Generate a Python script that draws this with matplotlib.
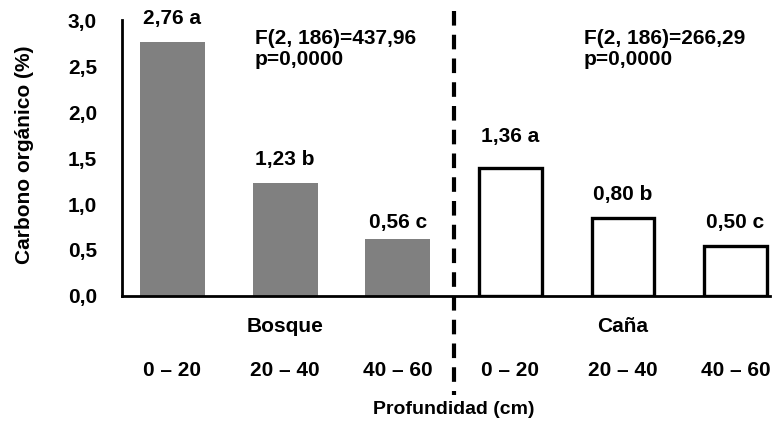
import matplotlib
matplotlib.use("Agg")
import matplotlib.pyplot as plt
import matplotlib.transforms as mtransforms

plt.rcParams['font.family'] = ['Liberation Sans', 'DejaVu Sans']
plt.rcParams['font.weight'] = 'bold'

# Data
groups = ["Bosque", "Caña"]
depths = ["0 – 20", "20 – 40", "40 – 60", "0 – 20", "20 – 40", "40 – 60"]
bosque_vals = [2.76, 1.23, 0.62]
cana_vals = [1.39, 0.85, 0.54]
bosque_labels = ["2,76 a", "1,23 b", "0,56 c"]
cana_labels = ["1,36 a", "0,80 b", "0,50 c"]
stats = ["F(2, 186)=437,96\np=0,0000", "F(2, 186)=266,29\np=0,0000"]
yticks = [0.0, 0.5, 1.0, 1.5, 2.0, 2.5, 3.0]
ytick_labels = ["0,0", "0,5", "1,0", "1,5", "2,0", "2,5", "3,0"]

# layout: gap between bar top and label centre (in axis units)
bosque_gap = [0.26, 0.25, 0.18]
cana_gap = [0.34, 0.25, 0.26]

W, H = 779, 430
fig = plt.figure(figsize=(W / 100, H / 100), dpi=100)
ax = fig.add_axes([122 / W, (H - 296) / H, 648 / W, 276 / H])

xb = [0, 1, 2]
xc = [3, 4, 5]
bw = 0.577
ax.bar(xb, bosque_vals, width=bw, color="#808080", edgecolor="none", zorder=2)
ax.bar(xc, cana_vals, width=bw - 0.02, facecolor="white", edgecolor="black",
       linewidth=2.4, zorder=2)

fs = 15
for x, v, lab, g in zip(xb, bosque_vals, bosque_labels, bosque_gap):
    ax.text(x, v + g, lab, ha="center", va="center", fontsize=fs, fontweight="bold")
for x, v, lab, g in zip(xc, cana_vals, cana_labels, cana_gap):
    ax.text(x, v + g, lab, ha="center", va="center", fontsize=fs, fontweight="bold")

ax.text(0.73, 2.90, stats[0], ha="left", va="top", fontsize=fs, fontweight="bold",
        linespacing=1.15)
ax.text(3.65, 2.90, stats[1], ha="left", va="top", fontsize=fs, fontweight="bold",
        linespacing=1.15)

ax.set_xlim(-0.448, 5.306)
ax.set_ylim(0, 3.0)
ax.set_yticks(yticks)
ax.set_yticklabels(ytick_labels, fontsize=fs, fontweight="bold")
ax.tick_params(axis="y", length=0, pad=18)
ax.set_xticks([])

for s in ["top", "right"]:
    ax.spines[s].set_visible(False)
ax.spines["left"].set_linewidth(2.0)
ax.spines["bottom"].set_linewidth(2.0)

fig.text(25 / W, 1 - 155 / H, "Carbono orgánico (%)", rotation=90, ha="center",
         va="center", fontsize=fs, fontweight="bold")

trans = mtransforms.blended_transform_factory(ax.transData, fig.transFigure)
for x, lab in zip(range(6), depths):
    ax.text(x, 1 - 370 / H, lab, transform=trans, ha="center", va="center",
            fontsize=fs, fontweight="bold")
ax.text(1, 1 - 327 / H, groups[0], transform=trans, ha="center", va="center",
        fontsize=fs, fontweight="bold")
ax.text(4, 1 - 327 / H, groups[1], transform=trans, ha="center", va="center",
        fontsize=fs, fontweight="bold")
ax.text(2.5, 1 - 410 / H, "Profundidad (cm)", transform=trans, ha="center",
        va="center", fontsize=14, fontweight="bold")

ax.plot([2.5, 2.5], [3.10, -1.08], color="black", linewidth=3.0,
        dashes=(3.5, 2.2), clip_on=False, zorder=3)

fig.savefig("out.png", dpi=100)
